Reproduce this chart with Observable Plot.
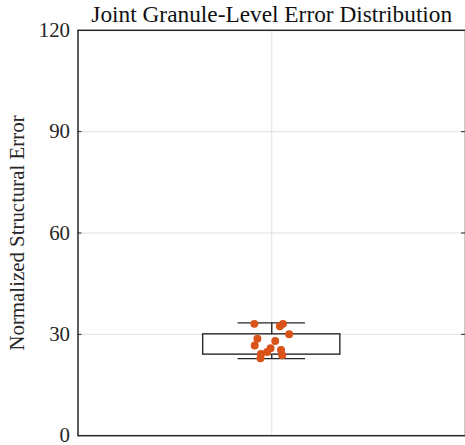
<!DOCTYPE html>
<html>
<head>
<meta charset="utf-8">
<script src="https://cdn.jsdelivr.net/npm/d3@7"></script>
<script src="https://cdn.jsdelivr.net/npm/@observablehq/plot@0.6"></script>
<style>
  html, body { margin: 0; padding: 0; background: #fff; overflow: hidden; }
  #chart { width: 465px; height: 445px; overflow: hidden; }
</style>
</head>
<body>
<div id="chart"></div>
<script>
// ---- data ----
const titleText = "Joint Granule-Level Error Distribution";
const yLabel = "Normalized Structural Error";
const yTicks = [0, 30, 60, 90, 120];
// box statistics
const boxQ1 = 24.0;
const boxQ3 = 30.0;
const whiskerLow = 22.8;
const whiskerHigh = 33.4;
// individual observations (jitter offset within the category, value)
const pointJitter = [-0.045, 0.021, 0.029, 0.045, -0.037, 0.009, -0.044, -0.003, 0.024, -0.012, -0.028, 0.027, -0.029];
const pointValues = [33.1, 32.4, 33.1, 30.0, 28.7, 28.0, 26.7, 25.9, 25.4, 24.8, 24.2, 23.8, 22.9];

// ---- styling constants ----
const boxHalf = 0.177;
const capHalf = 0.087;
const ink = "#262626";
const gridColor = "#e1e1e1";
const dotColor = "#D95319";
const font = "'Liberation Serif', 'Times New Roman', serif";

const points = pointValues.map((v, i) => ({x: pointJitter[i], y: v}));
const box = [{x1: -boxHalf, x2: boxHalf, y1: boxQ1, y2: boxQ3}];
const whiskers = [
  {x1: 0, x2: 0, y1: boxQ3, y2: whiskerHigh},
  {x1: 0, x2: 0, y1: whiskerLow, y2: boxQ1}
];
const caps = [whiskerLow, whiskerHigh];

const chart = Plot.plot({
  width: 468,
  height: 446,
  marginLeft: 78,
  marginRight: 0,
  marginTop: 30,
  marginBottom: 8,
  style: {fontFamily: font, fontSize: "21px", color: ink, background: "#fff", overflow: "visible"},
  x: {domain: [-0.5, 0.5], axis: null},
  y: {domain: [0, 120]},
  marks: [
    Plot.ruleY(yTicks.filter(d => d > 0 && d < 120), {stroke: gridColor, strokeWidth: 1}),
    Plot.ruleX([0], {stroke: gridColor, strokeWidth: 1}),
    Plot.axisY({
      ticks: yTicks, tickSize: 0, tickPadding: 8, fontSize: 21, fontFamily: font,
      label: yLabel, labelAnchor: "center", labelArrow: "none", labelOffset: 69
    }),
    Plot.tickY(yTicks.filter(d => d > 0 && d < 120), {y: d => d, stroke: ink, strokeWidth: 1, inset: 0, insetRight: 386}),
    Plot.tickY(yTicks.filter(d => d > 0 && d < 120), {y: d => d, stroke: ink, strokeWidth: 1, insetLeft: 386}),
    Plot.rect(box, {x1: "x1", x2: "x2", y1: "y1", y2: "y2", fill: "#fff", stroke: ink, strokeWidth: 1.4}),
    Plot.link(whiskers, {x1: "x1", x2: "x2", y1: "y1", y2: "y2", stroke: ink, strokeWidth: 1.4}),
    Plot.ruleY(caps, {x1: -capHalf, x2: capHalf, stroke: ink, strokeWidth: 1.4}),
    Plot.dot(points, {x: "x", y: "y", r: 4, fill: dotColor, stroke: "none"}),
    Plot.frame({stroke: ink, strokeWidth: 1.5}),
    Plot.text([titleText], {frameAnchor: "top", dy: -25, lineAnchor: "top", fontSize: 23.5, fontFamily: font, fill: "#111", text: d => d})
  ]
});
document.getElementById("chart").appendChild(chart);
</script>
</body>
</html>
